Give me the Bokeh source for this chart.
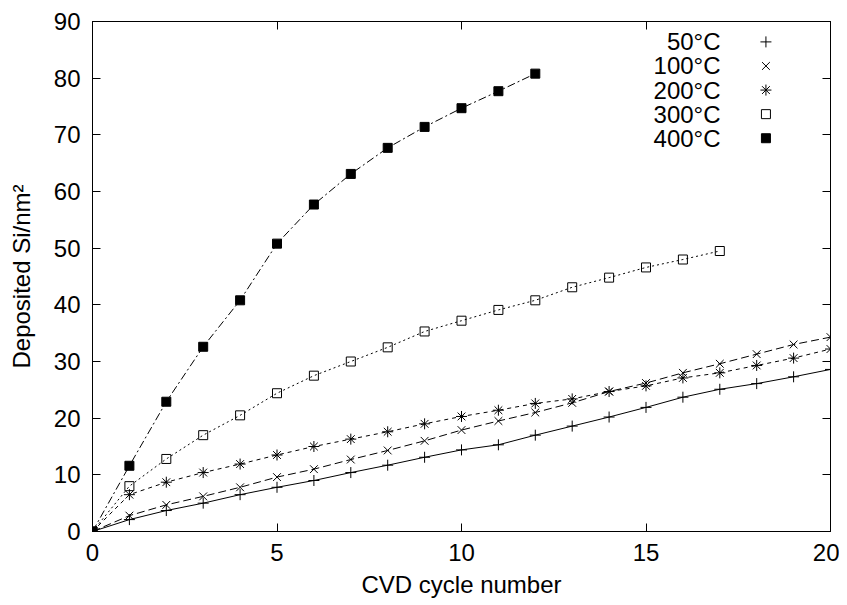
from bokeh.plotting import figure
from bokeh.models import Range1d, LinearAxis, FixedTicker, Label
from bokeh.embed import file_html
from bokeh.resources import INLINE

cycles_50 = list(range(0, 21))
si_50 = [0, 2.1, 3.7, 5.0, 6.5, 7.8, 9.0, 10.4, 11.7, 13.1, 14.4, 15.3, 17.0,
         18.6, 20.2, 21.9, 23.7, 25.1, 26.1, 27.3, 28.6]
cycles_100 = list(range(0, 21))
si_100 = [0, 2.8, 4.7, 6.2, 7.8, 9.6, 11.0, 12.7, 14.3, 16.0, 17.9, 19.5, 21.0,
          22.7, 24.7, 26.2, 28.0, 29.6, 31.3, 33.0, 34.3]
cycles_200 = list(range(0, 21))
si_200 = [0, 6.5, 8.7, 10.4, 11.9, 13.5, 15.0, 16.3, 17.6, 19.0, 20.3, 21.4, 22.6,
          23.4, 24.7, 25.7, 27.1, 28.0, 29.3, 30.6, 32.2]
cycles_300 = list(range(0, 18))
si_300 = [0, 8.0, 12.8, 17.0, 20.5, 24.4, 27.5, 30.0, 32.5, 35.3, 37.2, 39.1, 40.8,
          43.1, 44.8, 46.6, 48.0, 49.5]
cycles_400 = list(range(0, 13))
si_400 = [0, 11.6, 22.9, 32.6, 40.8, 50.8, 57.7, 63.1, 67.7, 71.4, 74.7, 77.7, 80.8]

series_labels = ["50\u00b0C", "100\u00b0C", "200\u00b0C", "300\u00b0C", "400\u00b0C"]
x_ticks = [0, 5, 10, 15, 20]
y_ticks = [0, 10, 20, 30, 40, 50, 60, 70, 80, 90]

FONT = "Liberation Sans"
FS = "24px"

p = figure(width=839, height=605, output_backend="svg", toolbar_location=None,
           x_range=Range1d(0, 20), y_range=Range1d(0, 90),
           min_border_left=92, min_border_right=9, min_border_top=21, min_border_bottom=74)
p.xgrid.visible = False
p.ygrid.visible = False
p.outline_line_color = "black"
p.outline_line_width = 1
p.background_fill_color = "white"
p.border_fill_color = "white"

for ax in (p.xaxis[0], p.yaxis[0]):
    ax.major_tick_in = 8
    ax.major_tick_out = 0
    ax.minor_tick_line_color = None
    ax.axis_line_color = "black"
    ax.major_tick_line_color = "black"
    ax.major_label_text_font = FONT
    ax.major_label_text_font_size = FS
    ax.major_label_text_color = "black"
    ax.axis_label_text_font = FONT
    ax.axis_label_text_font_size = FS
    ax.axis_label_text_font_style = "normal"
    ax.axis_label_text_color = "black"

p.xaxis[0].ticker = FixedTicker(ticks=x_ticks)
p.yaxis[0].ticker = FixedTicker(ticks=y_ticks)
p.xaxis[0].axis_label = "CVD cycle number"
p.yaxis[0].axis_label = "Deposited Si/nm\u00b2"
p.xaxis[0].major_label_standoff = 12
p.xaxis[0].axis_label_standoff = 7
p.yaxis[0].major_label_standoff = 12
p.yaxis[0].axis_label_standoff = 16

# mirror ticks on top and right (no labels)
top_ax = LinearAxis(ticker=FixedTicker(ticks=x_ticks), major_tick_in=8, major_tick_out=0,
                    minor_tick_line_color=None, axis_line_color="black",
                    major_label_overrides={t: "" for t in x_ticks}, major_label_standoff=0)
right_ax = LinearAxis(ticker=FixedTicker(ticks=y_ticks), major_tick_in=8, major_tick_out=0,
                      minor_tick_line_color=None, axis_line_color="black",
                      major_label_overrides={t: "" for t in y_ticks}, major_label_standoff=0)
p.add_layout(top_ax, "above")
p.add_layout(right_ax, "right")

# series
p.line(cycles_50, si_50, line_color="black", line_width=1)
p.scatter(cycles_50, si_50, marker="cross", size=11, line_color="black", line_width=1)

p.line(cycles_100, si_100, line_color="black", line_width=1, line_dash="8 4")
p.scatter(cycles_100, si_100, marker="x", size=11, line_color="black", line_width=1)

p.line(cycles_200, si_200, line_color="black", line_width=1, line_dash="4 4")
p.scatter(cycles_200, si_200, marker="asterisk", size=11, line_color="black", line_width=1)

p.line(cycles_300, si_300, line_color="black", line_width=1, line_dash="2 3")
p.scatter(cycles_300, si_300, marker="square", size=9, line_color="black", line_width=1,
          fill_alpha=0)

p.line(cycles_400, si_400, line_color="black", line_width=1, line_dash="8 3 2 3")
p.scatter(cycles_400, si_400, marker="square", size=9, line_color="black", line_width=1,
          fill_color="black")

# legend (gnuplot style: text right-aligned, marker to the right)
leg_text_x = 17.02
leg_mark_x = 18.25
leg_y0 = 86.4
leg_dy = 4.25
markers = [("cross", 11, "black", 1), ("x", 11, "black", 1), ("asterisk", 11, "black", 1),
           ("square", 9, "white", 0), ("square", 9, "black", 1)]
for i, (lab, (mk, sz, fc, fa)) in enumerate(zip(series_labels, markers)):
    yy = leg_y0 - leg_dy * i
    p.add_layout(Label(x=leg_text_x, y=yy, text=lab, text_align="right",
                       text_baseline="middle", text_font=FONT, text_font_size=FS,
                       text_color="black"))
    p.scatter([leg_mark_x], [yy], marker=mk, size=sz, line_color="black",
              line_width=1, fill_color=fc, fill_alpha=fa)

open("out.html", "w").write(file_html(p, INLINE))
